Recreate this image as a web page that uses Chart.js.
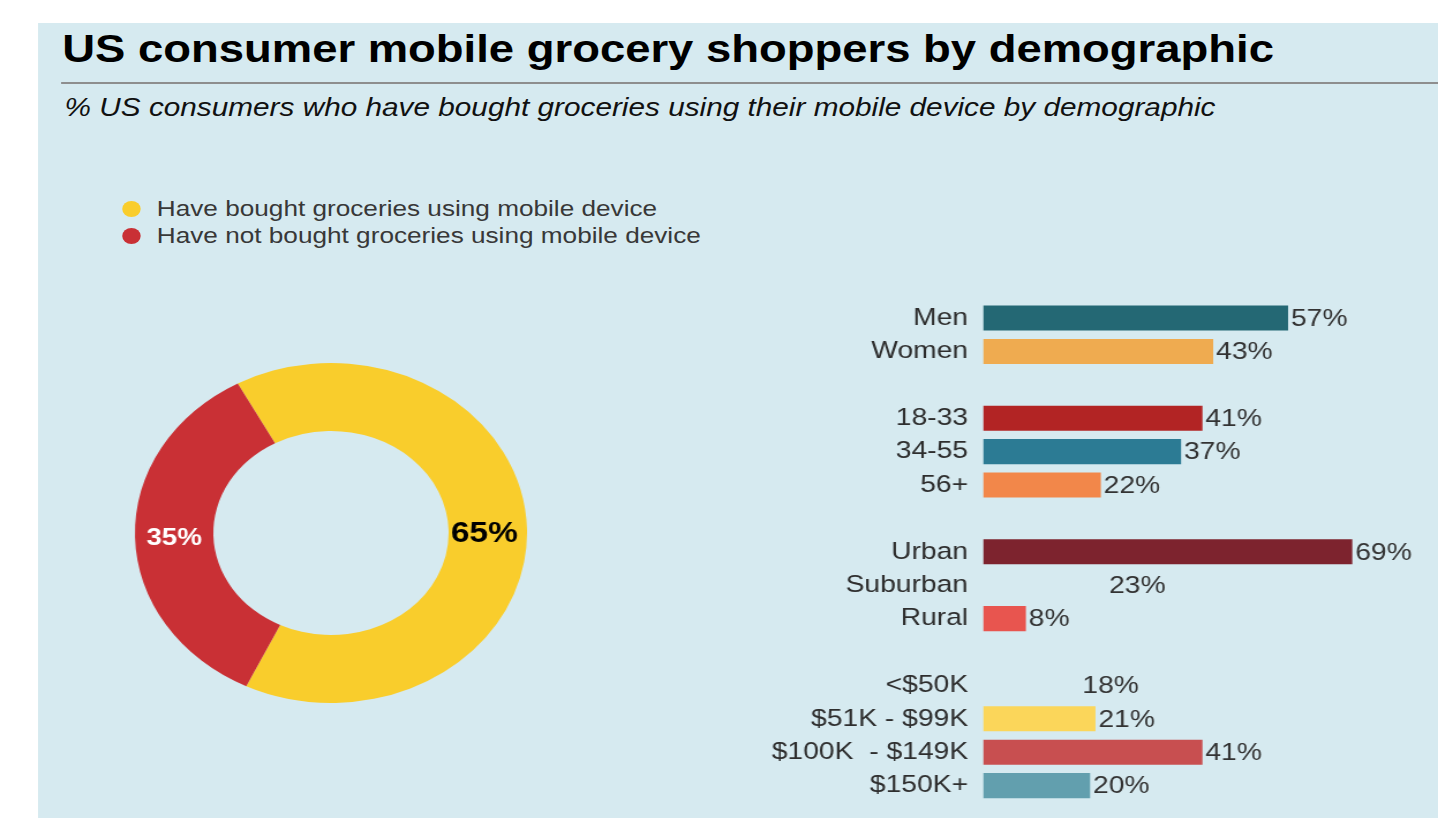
<!DOCTYPE html>
<html>
<head>
<meta charset="utf-8">
<script src="https://cdn.jsdelivr.net/npm/chart.js@4.4.1/dist/chart.umd.min.js"></script>
<style>
  html, body { margin:0; padding:0; background:#ffffff; width:1438px; height:818px; overflow:hidden; }
  #stage { position:absolute; left:0; top:0; width:1247px; height:818px; transform:scaleX(1.1532); transform-origin:0 0; font-family:"Liberation Sans", Arial, sans-serif; }
  #panel { position:absolute; left:33px; top:23px; width:1214px; height:795px; background:#d6eaf0; }
  #title { position:absolute; left:54px; top:28.6px; font-size:39.4px; line-height:39.4px; font-weight:bold; color:#000; white-space:nowrap; }
  #rule { position:absolute; left:53px; top:82px; width:1194px; height:2px; background:#8e8e8e; }
  #subtitle { position:absolute; left:56px; top:94px; font-size:25.8px; line-height:26px; font-style:italic; color:#111; white-space:nowrap; }
  #legend { position:absolute; left:105px; top:195px; font-size:22.7px; color:#383838; }
  .item { position:relative; height:27px; line-height:27px; white-space:nowrap; padding-left:31px; }
  .dot { position:absolute; left:1px; top:5.5px; width:16px; height:16px; border-radius:50%; }
  #donut { position:absolute; left:112px; top:358px; }
  #bars { position:absolute; left:600px; top:290px; }
</style>
</head>
<body>
<div id="stage">
  <div id="panel"></div>
  <div id="title">US consumer mobile grocery shoppers by demographic</div>
  <div id="rule"></div>
  <div id="subtitle">% US consumers who have bought groceries using their mobile device by demographic</div>
  <div id="legend"></div>
  <canvas id="donut" width="350" height="350"></canvas>
  <canvas id="bars" width="640" height="528"></canvas>
</div>
<script>
// ---- Donut data ----
const donutLabels = ['Have bought groceries using mobile device', 'Have not bought groceries using mobile device'];
const donutValues = [65, 35];
const donutColors = ['#f9cd2c', '#c93035'];
const donutLabelColors = ['#000000', '#ffffff'];

// ---- Bar data (blank categories are group gaps) ----
const categories = ['Men', 'Women', '', '18-33', '34-55', '56+', '', 'Urban', 'Suburban', 'Rural', '', '<$50K', '$51K - $99K', '$100K  - $149K', '$150K+'];
const shareValues = [57, 43, null, 41, 37, 22, null, 69, 23, 8, null, 18, 21, 41, 20];
const barColors = ['#246874', '#efab50', null, '#b22424', '#2c7b94', '#f2874a', null, '#7d232e', 'rgba(0,0,0,0)', '#e8554f', null, 'rgba(0,0,0,0)', '#fbd65a', '#c84f50', '#629fae'];

// HTML legend built from the donut arrays
const legendEl = document.getElementById('legend');
donutLabels.forEach((lab, i) => {
  const d = document.createElement('div');
  d.className = 'item';
  d.innerHTML = '<span class="dot" style="background:' + donutColors[i] + '"></span>' + lab;
  legendEl.appendChild(d);
});

const FONT = '"Liberation Sans", Arial, sans-serif';

const donutLabelPlugin = {
  id: 'donutLabels',
  afterDatasetsDraw(chart) {
    const ctx = chart.ctx;
    const meta = chart.getDatasetMeta(0);
    meta.data.forEach((arc, i) => {
      const mid = (arc.innerRadius + arc.outerRadius) / 2;
      const dir = i === 0 ? 1 : -1;
      ctx.save();
      ctx.font = 'bold ' + (i === 0 ? 29 : 24) + 'px ' + FONT;
      ctx.fillStyle = donutLabelColors[i];
      ctx.textAlign = 'center';
      ctx.textBaseline = 'middle';
      ctx.fillText(donutValues[i] + '%', arc.x + dir * (mid - (i === 0 ? 3 : 0)), arc.y + (i === 0 ? 1 : 5));
      ctx.restore();
    });
  }
};

new Chart(document.getElementById('donut'), {
  type: 'doughnut',
  data: {
    labels: donutLabels,
    datasets: [{ data: donutValues, backgroundColor: donutColors, borderWidth: 0, hoverOffset: 0 }]
  },
  options: {
    responsive: false,
    animation: false,
    cutout: '60%',
    rotation: -28.4,
    layout: { padding: 5 },
    plugins: { legend: { display: false }, tooltip: { enabled: false } }
  },
  plugins: [donutLabelPlugin]
});

const valueLabelPlugin = {
  id: 'valueLabels',
  afterDatasetsDraw(chart) {
    const ctx = chart.ctx;
    const meta = chart.getDatasetMeta(0);
    ctx.save();
    ctx.font = '24.5px ' + FONT;
    ctx.fillStyle = '#333333';
    ctx.textAlign = 'left';
    ctx.textBaseline = 'middle';
    meta.data.forEach((bar, i) => {
      const v = shareValues[i];
      if (v === null || v === undefined) return;
      ctx.fillText(v + '%', bar.x + 2.5, bar.y + 1);
    });
    ctx.restore();
  }
};

new Chart(document.getElementById('bars'), {
  type: 'bar',
  data: {
    labels: categories,
    datasets: [{
      data: shareValues,
      backgroundColor: barColors,
      borderWidth: 0,
      barPercentage: 0.75,
      categoryPercentage: 1
    }]
  },
  options: {
    indexAxis: 'y',
    responsive: false,
    animation: false,
    layout: { padding: { top: 11.3, bottom: 15.7, left: 0, right: 39.5 } },
    scales: {
      x: { display: false, min: 0, max: 75 },
      y: {
        grid: { display: false, drawTicks: false },
        border: { display: false },
        ticks: { padding: 13, color: '#2e2e2e', font: { family: FONT, size: 24.5 } },
        afterFit(scale) { scale.width = 252.5; scale.paddingTop = 0; scale.paddingBottom = 0; }
      }
    },
    plugins: { legend: { display: false }, tooltip: { enabled: false } }
  },
  plugins: [valueLabelPlugin]
});
</script>
</body>
</html>
